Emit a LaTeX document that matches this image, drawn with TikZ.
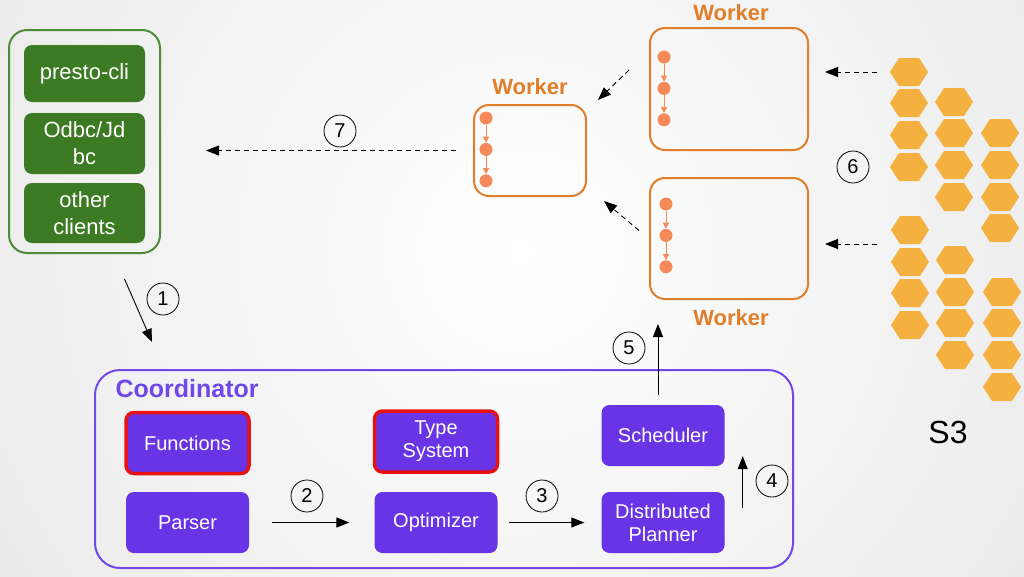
\documentclass[tikz,border=0pt]{standalone}
\usepackage{fontspec}
\setmainfont{Liberation Sans}
\usetikzlibrary{arrows.meta,positioning,shapes.geometric}

\definecolor{clientgreen}{RGB}{61,122,36}
\definecolor{clientframe}{RGB}{78,140,58}
\definecolor{coordpurple}{RGB}{104,52,230}
\definecolor{framepurple}{RGB}{112,72,232}
\definecolor{workerorange}{RGB}{226,126,42}
\definecolor{dotorange}{RGB}{245,138,88}
\definecolor{hexyellow}{RGB}{245,177,64}
\definecolor{funcred}{RGB}{232,18,18}

\tikzset{
  clientbox/.style={rounded corners=8, fill=clientgreen, text=white, align=center,
    minimum width=121, font=\fontsize{22}{27}\selectfont},
  corebox/.style={rounded corners=8, fill=coordpurple, text=white, align=center,
    minimum width=123, minimum height=61, font=\fontsize{20}{23}\selectfont},
  redframe/.style={draw=funcred, line width=3.5},
  workerbox/.style={draw=workerorange, line width=2, rounded corners=15},
  workerlabel/.style={text=workerorange, font=\bfseries\fontsize{22}{24}\selectfont},
  taskdot/.style={circle, fill=dotorange, minimum size=13, inner sep=0},
  numcircle/.style={circle, draw, line width=0.8, minimum size=32, inner sep=0,
    font=\fontsize{20}{22}\selectfont},
  flow/.style={-{Triangle[length=13,width=10]}, line width=0.9},
  flowdash/.style={flow, dash pattern=on 5pt off 4pt},
  hexcell/.pic={\fill[hexyellow] (-19,0) -- (-10,-14) -- (10,-14) -- (19,0) -- (10,14) -- (-10,14) -- cycle;}
}

\begin{document}
\begin{tikzpicture}[x=1pt,y=1pt,yscale=-1]
\useasboundingbox (0,0) rectangle (1024,576);
% background
\begin{scope}
\clip (0,0) rectangle (1024,576);
\shade[inner color=white, outer color=gray!34] (520,250) circle (1300);
\end{scope}

% clients
\node [draw=clientframe, line width=2, rounded corners=18, minimum width=151, minimum height=223] (clients) at (84.5,141.5) {};
\node [clientbox, minimum height=57] (presto) at (84.5,73.5) {presto-cli};
\node [clientbox, minimum height=61] (odbc) at (84.5,143.5) {Odbc/Jd\\bc};
\node [clientbox, minimum height=60] (other) at (84.5,213) {other\\clients};

% coordinator
\node [draw=framepurple, line width=2, rounded corners=25, minimum width=698, minimum height=198] (coord) at (444,469) {};
\node [anchor=west, text=framepurple, font=\bfseries\fontsize{25}{27}\selectfont] (coordlbl) at (112,389) {Coordinator};
\node [corebox, redframe] (functions) at (187.5,443) {Functions};
\node [corebox, redframe] (typesys) at (436,441.5) {Type\\System};
\node [corebox] (parser) at (187.5,522.5) {Parser};
\node [corebox] (optimizer) at (436,522.5) {Optimizer};
\node [corebox] (scheduler) at (663,435.5) {Scheduler};
\node [corebox] (planner) at (663,522.5) {Distributed\\Planner};

% workers
\node [workerbox, minimum width=112, minimum height=91] (wmid) at (530,150.5) {};
\node [workerbox, minimum width=158, minimum height=122] (wtop) at (729,89) {};
\node [workerbox, minimum width=158, minimum height=121] (wbot) at (729,238.5) {};
\node [workerlabel] (wmidlbl) at (530,87) {Worker};
\node [workerlabel] (wtoplbl) at (731,13) {Worker};
\node [workerlabel] (wbotlbl) at (731,318) {Worker};

\foreach \w/\dx/\dy in {wmid/13/14, wtop/15/30, wbot/17/27} {
  \node [taskdot] (\w-d1) at ([xshift=\dx,yshift=\dy]\w.north west) {};
  \node [taskdot, below=18 of \w-d1] (\w-d2) {};
  \node [taskdot, below=18 of \w-d2] (\w-d3) {};
  \draw [dotorange, line width=1, -{Triangle[length=6,width=6]}] (\w-d1) -- (\w-d2);
  \draw [dotorange, line width=1, -{Triangle[length=6,width=6]}] (\w-d2) -- (\w-d3);
}

% S3 data
\foreach \hx/\hy in {909/72, 909/103, 909/135, 909/167,
                     954/102, 954/133, 954/165, 954/197,
                     1000/133, 1000/165, 1000/197, 1000/228,
                     910/230, 910/262, 910/293, 910/325,
                     955/260, 955/292, 955/323, 955/355,
                     1002/292, 1002/323, 1002/355, 1002/387}
  \pic at (\hx,\hy) {hexcell};
\node [font=\fontsize{32}{34}\selectfont] (s3) at (948,432) {S3};
\coordinate (s3top) at (877,72);
\coordinate (s3bot) at (877,244);

% connectors
\draw [flow] ([xshift=40,yshift=25]clients.south) -- ([xshift=58,yshift=-27]coord.north west);
\draw [flow, shorten <=23, shorten >=25] (parser) -- (optimizer);
\draw [flow, shorten <=11, shorten >=17] (optimizer) -- (planner);
\draw [flow] ([xshift=18,yshift=16]planner.north east) -- ([xshift=18,yshift=-10]scheduler.south east);
\draw [flow] ([xshift=-5,yshift=-10]scheduler.north) -- ([xshift=-5,yshift=24]scheduler.north |- wbot.south);
\draw [flowdash] (s3top) -- ([xshift=16]wtop.east |- s3top);
\draw [flowdash] (s3bot) -- ([xshift=16]wbot.east |- s3bot);
\draw [flowdash] ([xshift=-20,yshift=-19]wtop.west) -- ([xshift=11,yshift=-4]wmid.north east);
\draw [flowdash] ([xshift=-10,yshift=-8]wbot.west) -- ([xshift=17,yshift=4]wmid.south east);
\draw [flowdash] ([xshift=-17]wmid.west) -- ([xshift=45]clients.east |- wmid.west);

% step numbers
\node [numcircle] (n1) at (163,299) {1};
\node [numcircle] (n2) at (307,496) {2};
\node [numcircle] (n3) at (542,496) {3};
\node [numcircle] (n4) at (772,481) {4};
\node [numcircle] (n5) at (629,348) {5};
\node [numcircle] (n6) at (853,167) {6};
\node [numcircle] (n7) at (340,131) {7};

\end{tikzpicture}
\end{document}
